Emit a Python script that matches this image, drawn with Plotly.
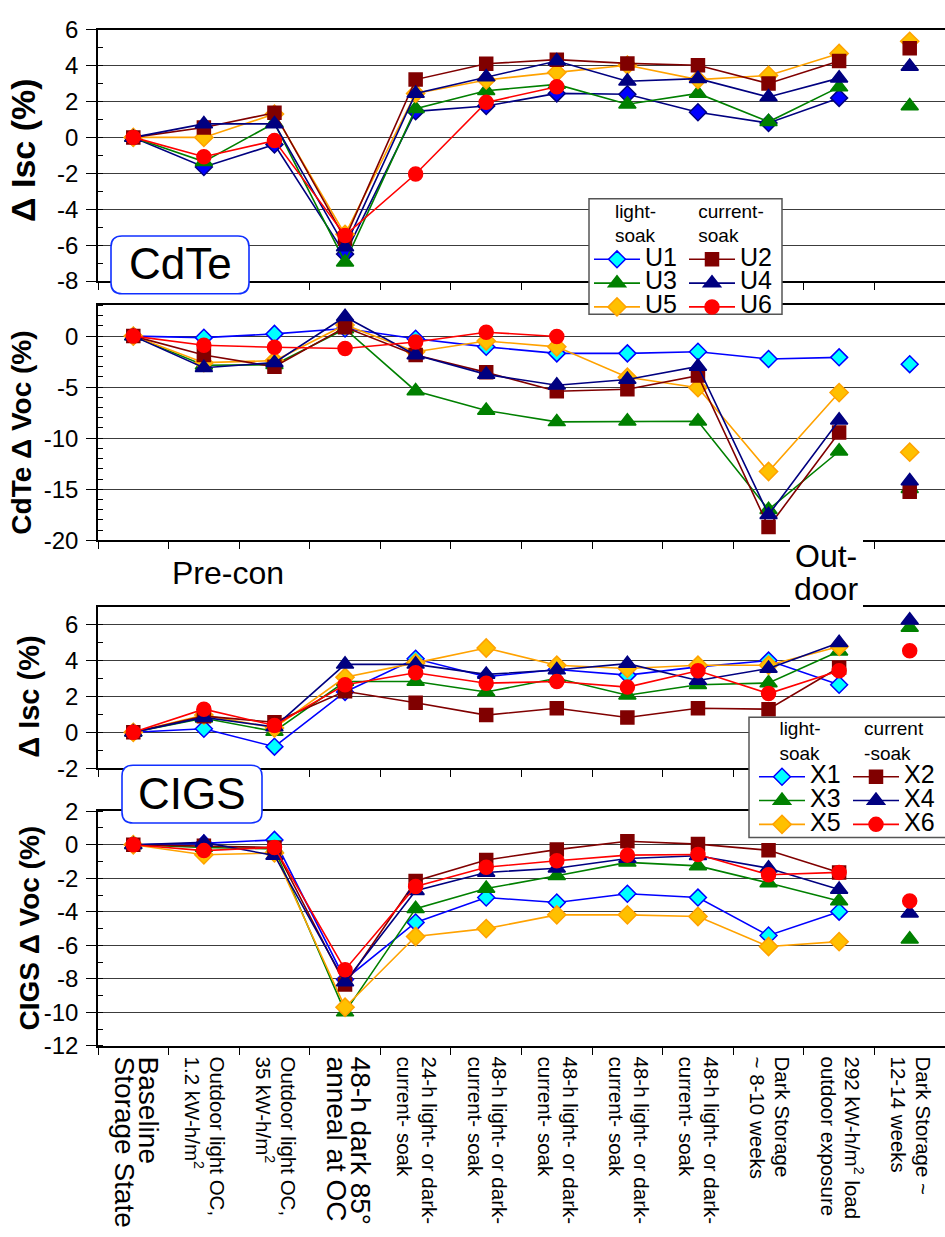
import plotly.graph_objects as go

# ---------------- data ----------------
CATEGORIES = [
    ["Baseline", "Storage State"],
    ["Outdoor light OC,", "1.2 kW-h/m<sup>2</sup>"],
    ["Outdoor light OC,", "35 kW-h/m<sup>2</sup>"],
    ["48-h dark 85°", "anneal at OC"],
    ["24-h light- or dark-", "current- soak"],
    ["48-h light- or dark-", "current- soak"],
    ["48-h light- or dark-", "current- soak"],
    ["48-h light- or dark-", "current- soak"],
    ["48-h light- or dark-", "current- soak"],
    ["Dark Storage", "~ 8-10 weeks"],
    ["292 kW-h/m<sup>2</sup> load", "outdoor exposure"],
    ["Dark Storage ~", "12-14 weeks"],
]

CDTE_ISC = {
    "U1": [0, -1.65, -0.4, -6.5, 1.45, 1.75, 2.45, 2.4, 1.4, 0.8, 2.2, None],
    "U2": [0, 0.55, 1.37, -5.65, 3.22, 4.1, 4.33, 4.12, 4.02, 3.0, 4.25, 4.97],
    "U3": [0, -1.35, 0.8, -6.95, 1.6, 2.6, 2.95, 1.85, 2.45, 0.87, 2.8, 1.75],
    "U4": [0, 0.75, 0.75, -6.1, 2.45, 3.36, 4.25, 3.13, 3.27, 2.25, 3.3, 3.95],
    "U5": [0, 0.0, 1.3, -5.4, 2.45, 3.2, 3.62, 4.02, 3.22, 3.45, 4.67, 5.35],
    "U6": [0, -1.08, -0.18, -5.46, -2.04, 1.95, 2.82, None, None, None, None, None],
}
CDTE_VOC = {
    "U1": [0, -0.15, 0.22, 0.75, -0.26, -1.05, -1.69, -1.69, -1.53, -2.24, -2.08, -2.75],
    "U2": [0, -1.85, -3.0, 0.86, -1.85, -3.55, -5.4, -5.2, -3.87, -18.7, -9.45, -15.25],
    "U3": [0, -2.85, -2.8, 0.7, -5.37, -7.28, -8.4, -8.34, -8.34, -17.0, -11.28, -14.95],
    "U4": [0, -3.1, -2.6, 1.9, -1.85, -3.75, -4.82, -4.25, -2.97, -17.5, -8.24, -14.2],
    "U5": [0, -2.6, -2.4, 1.09, -1.53, -0.48, -1.05, -4.03, -5.05, -13.26, -5.53, -11.37],
    "U6": [0, -0.9, -1.09, -1.21, -0.58, 0.38, -0.03, None, None, None, None, None],
}
CIGS_ISC = {
    "X1": [0, 0.2, -0.8, 2.25, 4.1, 3.1, 3.5, 3.19, 3.65, 4.0, 2.65, None],
    "X2": [0, 0.9, 0.56, 2.29, 1.65, 0.96, 1.34, 0.83, 1.34, 1.29, 3.61, None],
    "X3": [0, 0.78, 0.05, 2.83, 2.83, 2.25, 3.01, 2.07, 2.65, 2.75, 4.52, 5.85],
    "X4": [0, 0.83, 0.3, 3.79, 3.79, 3.23, 3.47, 3.83, 2.89, 3.56, 5.0, 6.25],
    "X5": [0, 0.96, 0.24, 3.07, 3.87, 4.7, 3.74, 3.56, 3.74, 3.74, 4.79, None],
    "X6": [0, 1.29, 0.38, 2.65, 3.32, 2.74, 2.83, 2.52, 3.43, 2.16, 3.43, 4.55],
}
CIGS_VOC = {
    "X1": [0, 0.08, 0.29, -8.03, -4.63, -3.15, -3.44, -2.92, -3.15, -5.41, -3.99, None],
    "X2": [0, -0.06, -0.16, -8.33, -2.16, -0.91, -0.29, 0.21, 0.04, -0.33, -1.65, None],
    "X3": [0, -0.16, -0.25, -9.98, -3.81, -2.61, -1.85, -1.05, -1.26, -2.28, -3.35, -5.64],
    "X4": [0, 0.14, -0.64, -8.19, -2.74, -1.65, -1.4, -0.82, -0.66, -1.4, -2.67, -4.09],
    "X5": [0, -0.6, -0.49, -9.69, -5.47, -5.0, -4.18, -4.18, -4.28, -6.07, -5.78, None],
    "X6": [0, -0.35, -0.16, -7.45, -2.49, -1.34, -0.95, -0.62, -0.58, -1.79, -1.65, -3.35],
}

CDTE_ISC_TICKS = [-8, -6, -4, -2, 0, 2, 4, 6]
CDTE_VOC_TICKS = [-20, -15, -10, -5, 0]
CIGS_ISC_TICKS = [-2, 0, 2, 4, 6]
CIGS_VOC_TICKS = [-12, -10, -8, -6, -4, -2, 0, 2]

Y_TITLES = ["Δ Isc (%)", "CdTe Δ Voc (%)", "Δ Isc (%)", "CIGS Δ Voc (%)"]
LEGEND_TITLES = ["light-<br>soak", "current-<br>soak", "light-<br>soak", "current<br>-soak"]

# ---------------- style ----------------
W, H = 945, 1237
FONT = "Liberation Sans, Arial, sans-serif"
LARGE_LABELS = {0, 3}


def px(x):
    return x / W


def py(y):
    return 1 - y / H


STYLE = {
    1: dict(symbol="diamond", line="#0000FF", fill="#00FFFF", edge="#0000FF", size=13),
    2: dict(symbol="square", line="#800000", fill="#800000", edge="#800000", size=13),
    3: dict(symbol="triangle-up", line="#008000", fill="#008000", edge="#008000", size=15),
    4: dict(symbol="triangle-up", line="#000080", fill="#000080", edge="#000080", size=15),
    5: dict(symbol="diamond", line="#FFA200", fill="#FFC000", edge="#FFA200", size=14),
    6: dict(symbol="circle", line="#FF0000", fill="#FF0000", edge="#FF0000", size=14),
}
U1_TOP = dict(symbol="diamond", line="#000080", fill="#0000FF", edge="#000080", size=13)

ORDER = [1, 3, 5, 2, 4, 6]

fig = go.Figure()
n_seq = len(CATEGORIES) - 1
xs = list(range(len(CATEGORIES)))


def add_panel(series, prefix, axis_n, legends=None, first_override=None):
    xa = "x" if axis_n == 1 else f"x{axis_n}"
    ya = "y" if axis_n == 1 else f"y{axis_n}"
    for k in ORDER:
        name = f"{prefix}{k}"
        vals = series[name]
        st = STYLE[k]
        if k == 1 and first_override is not None:
            st = first_override
        marker = dict(symbol=st["symbol"], size=st["size"], color=st["fill"],
                      line=dict(color=st["edge"], width=1.5))
        kw = dict(showlegend=False)
        if legends is not None:
            kw = dict(showlegend=True, legend=legends[0] if k % 2 == 1 else legends[1])
        fig.add_trace(go.Scatter(
            x=xs[:n_seq], y=vals[:n_seq], mode="lines+markers",
            name=f'<span style="font-size:25px">{name}</span>',
            line=dict(color=st["line"], width=1.6), marker=marker,
            connectgaps=False, xaxis=xa, yaxis=ya, **kw))
        if vals[n_seq] is not None:
            fig.add_trace(go.Scatter(
                x=xs[n_seq:], y=vals[n_seq:], mode="markers", marker=marker,
                showlegend=False, xaxis=xa, yaxis=ya, name=name))


add_panel(CDTE_ISC, "U", 1, None, U1_TOP)
add_panel(CDTE_VOC, "U", 2, ("legend", "legend2"))
add_panel(CIGS_ISC, "X", 3, ("legend3", "legend4"))
add_panel(CIGS_VOC, "X", 4, None)

PANELS = [  # (top px, bottom px, range, ticks)
    (16, 273, [-8, 6], CDTE_ISC_TICKS),
    (298, 538, [-20, 3], CDTE_VOC_TICKS),
    (606, 771, [-2, 7], CIGS_ISC_TICKS),
    (815, 1055, [-12, 2], CIGS_VOC_TICKS),
]


def fmt_label(i, lines):
    size = 28 if i in LARGE_LABELS else 20.5
    return "<br>".join(f'<span style="font-size:{size}px">{ln}</span>' for ln in lines)


ticktext = [fmt_label(i, c) for i, c in enumerate(CATEGORIES)]

layout = dict(
    width=W, height=H, autosize=False,
    margin=dict(l=0, r=0, t=0, b=0),
    paper_bgcolor="white", plot_bgcolor="white",
    font=dict(family=FONT, color="black"),
)

for n, (top, bot, rng, ticks) in enumerate(PANELS, start=1):
    xkey = "xaxis" if n == 1 else f"xaxis{n}"
    ykey = "yaxis" if n == 1 else f"yaxis{n}"
    ykey_ref = "y" if n == 1 else f"y{n}"
    xkey_ref = "x" if n == 1 else f"x{n}"
    layout[xkey] = dict(
        domain=[px(98), 1], anchor=ykey_ref, range=[-0.5, len(CATEGORIES) - 0.5],
        tickmode="array", tickvals=xs, ticktext=ticktext, ticks="",
        showticklabels=(n == 4), tickangle=90,
        tickfont=dict(family=FONT, size=19, color="black"), ticklabelstandoff=5,
        showline=True, linecolor="black", linewidth=1.6, mirror=True,
        showgrid=False, zeroline=False,
        minor=dict(tickmode="array", tickvals=[i - 0.5 for i in range(len(CATEGORIES) + 1)],
                   ticks="outside", ticklen=7, tickwidth=1.2, tickcolor="black", showgrid=False),
    )
    if n != 1:
        layout[xkey]["matches"] = "x"
    layout[ykey] = dict(
        domain=[py(bot), py(top)], anchor=xkey_ref, range=rng,
        tickmode="array", tickvals=ticks, ticktext=[str(t) for t in ticks],
        ticks="outside", ticklen=10, tickwidth=1.2, tickcolor="black",
        tickfont=dict(family=FONT, size=24, color="black"), ticklabelstandoff=3,
        showline=True, linecolor="black", linewidth=1.6,
        showgrid=True, gridcolor="#3c3c3c", gridwidth=1, zeroline=False,
        minor=dict(tickmode="linear", tick0=0, dtick=1, ticks="inside", ticklen=5,
                   tickwidth=1, tickcolor="black", showgrid=False),
    )

# legends
leg_pos = [(589, 183), (684, 183), (754, 712), (848, 712)]
for i, (lx, ly) in enumerate(leg_pos):
    key = "legend" if i == 0 else f"legend{i + 1}"
    layout[key] = dict(
        x=px(lx), y=py(ly), xanchor="left", yanchor="top",
        bgcolor="rgba(0,0,0,0)", borderwidth=0, itemwidth=46,
        font=dict(family=FONT, size=16, color="black"),
        title=dict(text=LEGEND_TITLES[i], side="top center",
                   font=dict(family=FONT, size=19, color="black")),
    )

fig.update_layout(**layout)


def rounded_path(x0, y0, x1, y1, r):
    pts = [
        f"M{px(x0 + r)},{py(y0)}", f"L{px(x1 - r)},{py(y0)}",
        f"Q{px(x1)},{py(y0)} {px(x1)},{py(y0 + r)}", f"L{px(x1)},{py(y1 - r)}",
        f"Q{px(x1)},{py(y1)} {px(x1 - r)},{py(y1)}", f"L{px(x0 + r)},{py(y1)}",
        f"Q{px(x0)},{py(y1)} {px(x0)},{py(y1 - r)}", f"L{px(x0)},{py(y0 + r)}",
        f"Q{px(x0)},{py(y0)} {px(x0 + r)},{py(y0)}", "Z",
    ]
    return " ".join(pts)


shapes = []
# legend box of the CdTe panel
shapes.append(dict(type="rect", xref="paper", yref="paper", layer="above",
                   x0=px(589), x1=px(782), y0=py(307), y1=py(189),
                   line=dict(color="#555555", width=1.5), fillcolor="white"))
# legend box of the CIGS panel: runs off the right edge (open on the right)
shapes.append(dict(type="path", xref="paper", yref="paper", layer="above",
                   path=f"M{px(W)},{py(719)} L{px(749)},{py(719)} "
                        f"L{px(749)},{py(842)} L{px(W)},{py(842)}",
                   line=dict(color="#555555", width=1.5), fillcolor="white"))
# white patch behind "Out-door"
shapes.append(dict(type="rect", xref="paper", yref="paper", layer="above",
                   x0=px(790), x1=px(863), y0=py(607), y1=py(536),
                   line=dict(width=0), fillcolor="white"))
# rounded label boxes
for (x0, y0, x1, y1) in [(111, 227, 249, 286), (122, 768, 262, 827)]:
    shapes.append(dict(type="path", xref="paper", yref="paper", layer="above",
                       path=rounded_path(x0, y0, x1, y1, 11),
                       line=dict(color="#1030FF", width=1.6), fillcolor="white"))
fig.update_layout(shapes=shapes)

annotations = []


def ann(text, x, y, size, angle=0, bold=False):
    annotations.append(dict(
        text=f"<b>{text}</b>" if bold else text, x=px(x), y=py(y),
        xref="paper", yref="paper", xanchor="center", yanchor="middle",
        showarrow=False, textangle=angle,
        font=dict(family=FONT, size=size, color="black")))


ann(Y_TITLES[0], 23, 140, 34, -90, True)
ann(Y_TITLES[1], 22, 428, 28, -90, True)
ann(Y_TITLES[2], 29, 698, 29, -90, True)
ann(Y_TITLES[3], 30, 935, 28, -90, True)
ann("CdTe", 180, 255, 44)
ann("CIGS", 192, 797, 44)
ann("Pre-con", 228, 571, 32)
ann("Out-", 826, 554, 32)
ann("door", 826, 588, 32)
fig.update_layout(annotations=annotations)

PAGE_FIX = (
    "document.documentElement.style.margin='0';"
    "document.documentElement.style.overflow='hidden';"
    "document.body.style.margin='0';document.body.style.padding='0';"
    "document.body.style.overflow='hidden';"
    "document.querySelectorAll('.plotly-graph-div, .main-svg').forEach("
    "function(e){e.style.overflow='hidden';});"
)

fig.write_html("out.html", post_script=PAGE_FIX)
